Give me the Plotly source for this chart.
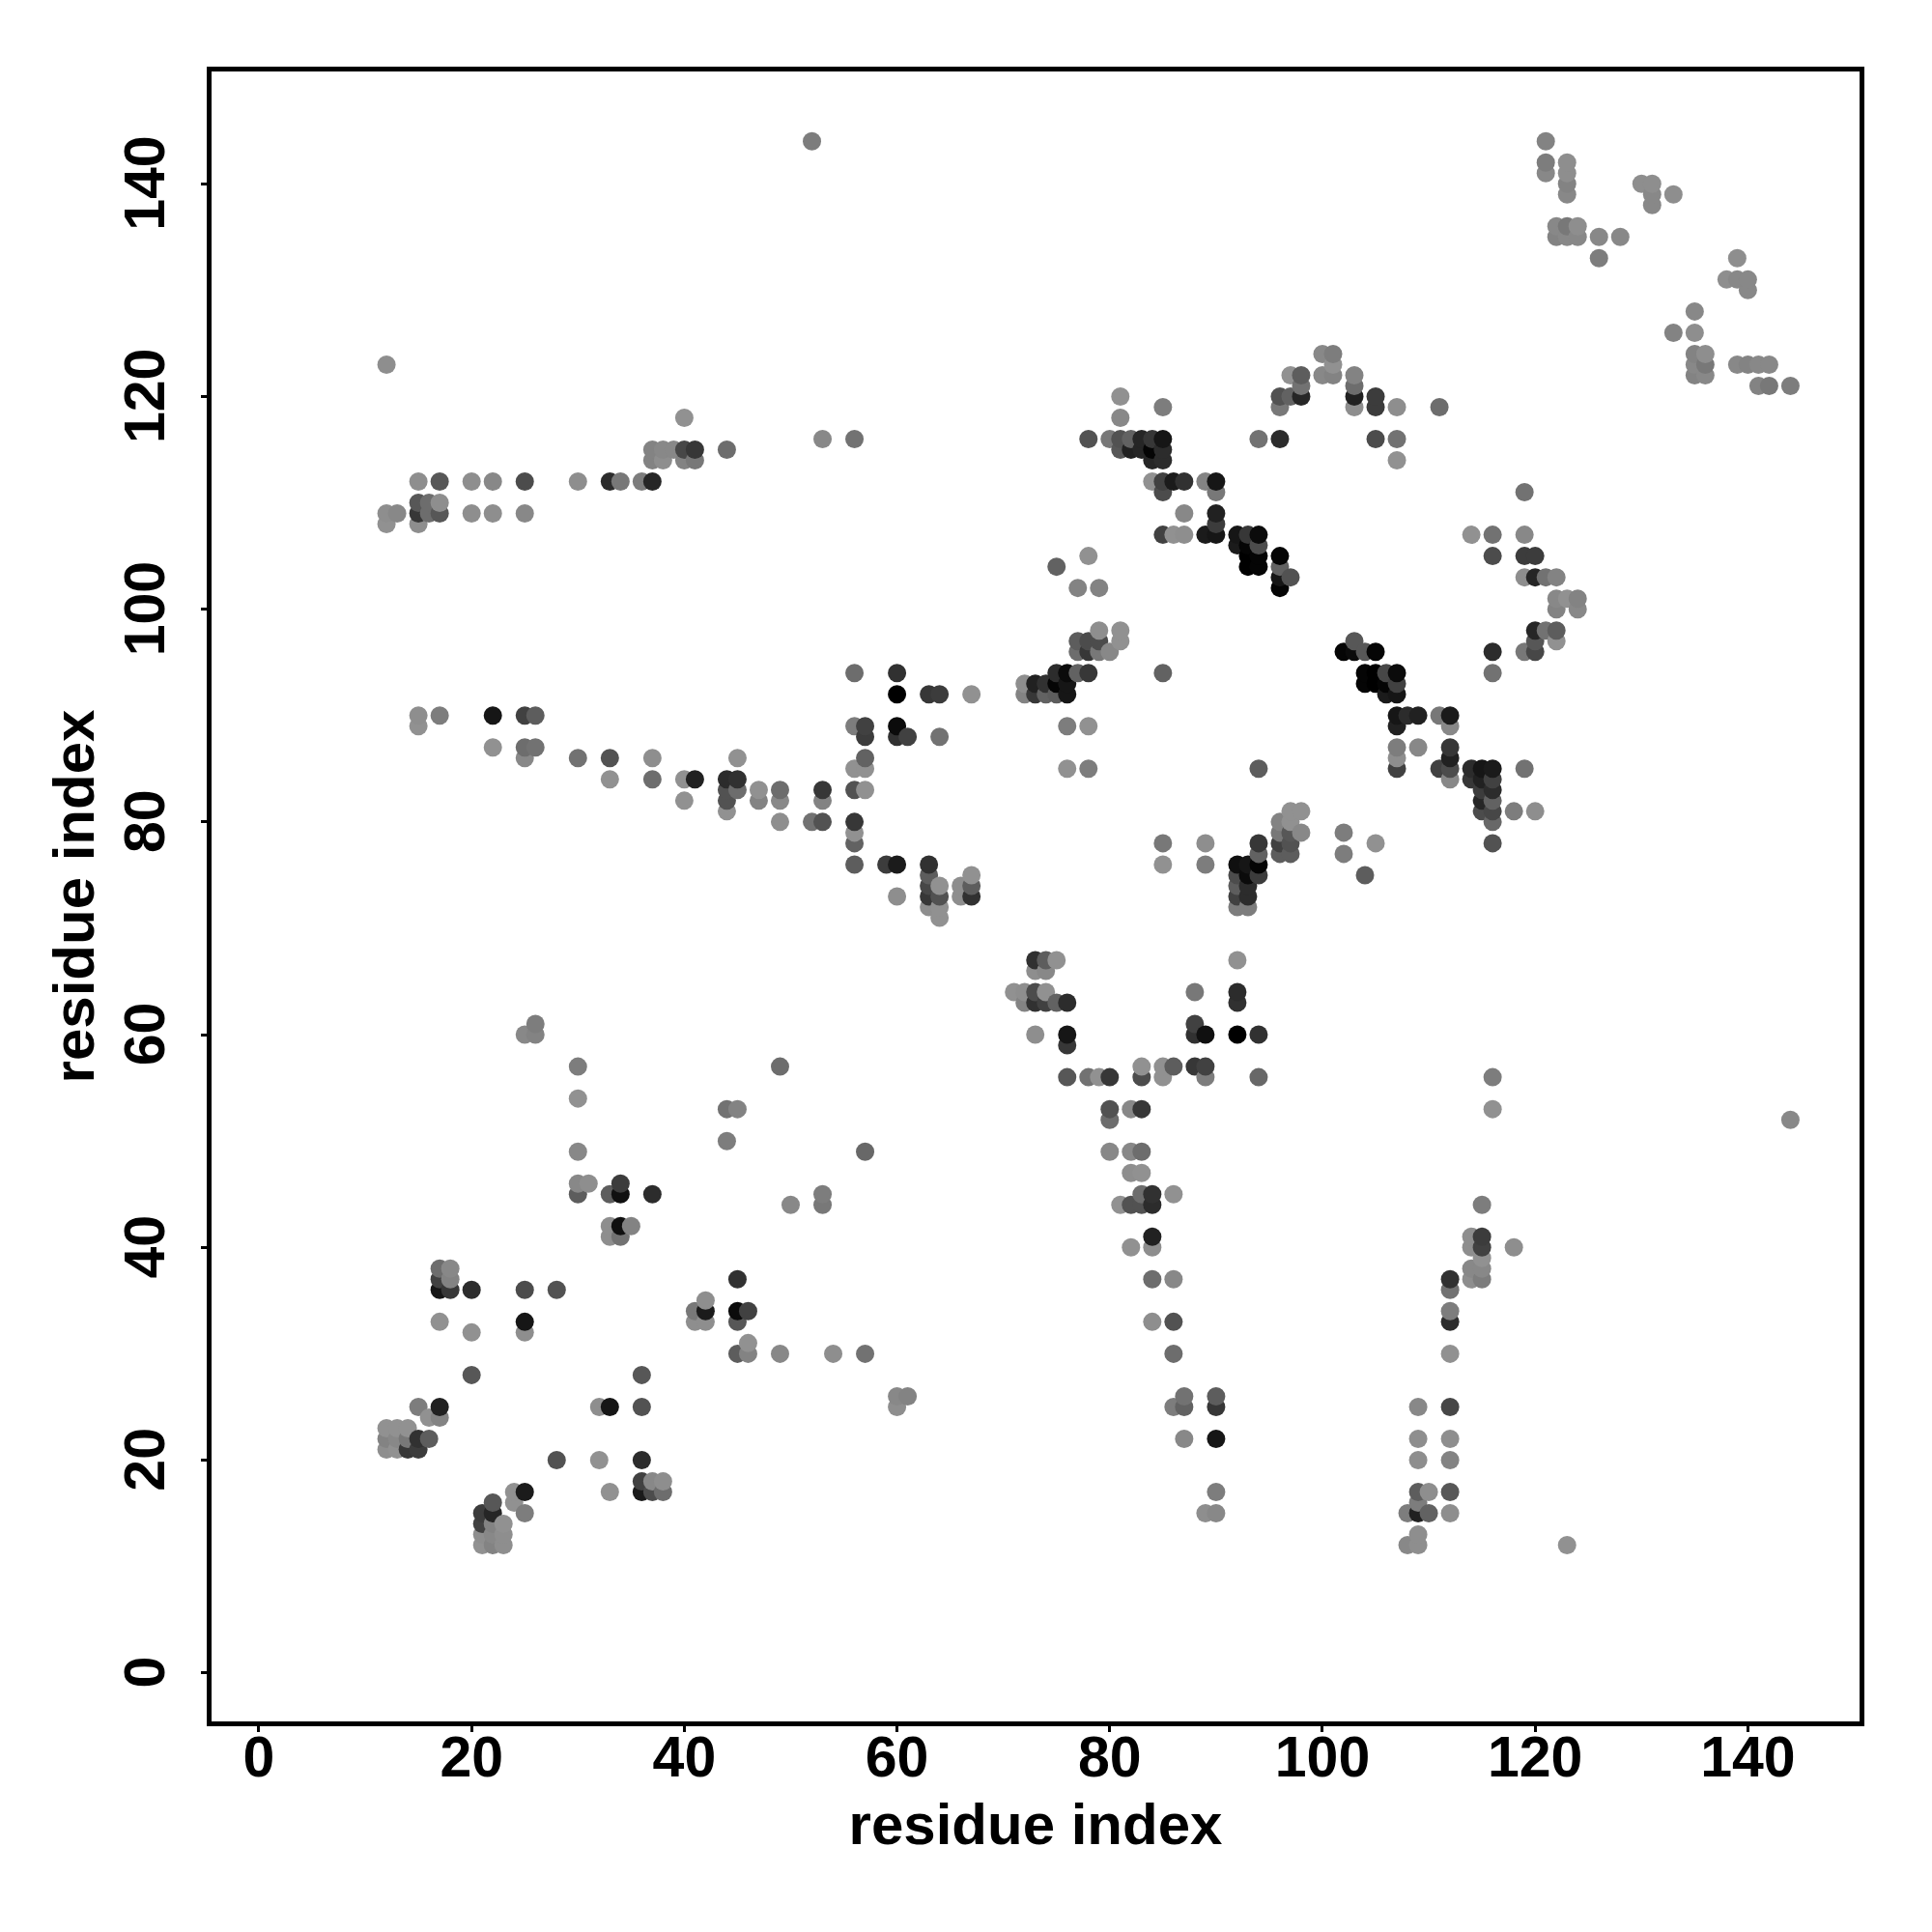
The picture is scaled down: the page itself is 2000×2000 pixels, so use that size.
import plotly.graph_objects as go

tick_values = [0, 20, 40, 60, 80, 100, 120, 140]
tick_labels = ["0", "20", "40", "60", "80", "100", "120", "140"]
axis_label = "residue index"

# lower-left contacts
low_x = [17,18,17,18,17,18,20,25,28,17,20,25,25,20,15,17,16,17,
         12,13,14,12,13,14,15,16,12,13,14,15,28,24,25,24,25,
         22,21,22,21,22,23,21,22,23,21,22,23]
low_y = [38,38,37,37,36,36,36,36,36,33,32,33,32,28,25,25,24,24,
         23,23,23,22,22,22,22,22,21,21,21,21,20,17,17,16,15,
         16,15,15,14,14,14,13,13,13,12,12,12]
low_g = [100,125,60,120,20,50,40,70,75,140,135,20,130,80,115,30,135,120,
         135,135,135,120,125,110,45,85,130,135,50,55,75,135,25,135,115,
         80,55,35,60,120,135,130,125,130,140,120,130]

# 30-60 residue contacts at low index
mid_low_x = [33,34,35,33,34,36,32,33,36,32,36,36,37,38,36,37,38,33,
             45,42,41,42,45,46,41,42,45,46,45,46,49,54,57,60,61,60,
             25,26,26,30,30,30,30,31,30,33,34,34,37,44,45,44,49,50,53,53,57]
mid_low_y = [42,42,42,41,41,28,25,25,25,20,20,18,18,18,17,17,17,17,
             37,35,34,34,34,34,33,33,33,31,30,30,30,30,30,26,26,25,
             60,61,60,57,54,49,46,46,45,45,46,45,45,53,53,50,57,44,45,44,49]
mid_low_g = [130,15,120,130,105,80,130,20,75,135,40,60,125,130,25,70,100,135,
             45,130,110,25,10,60,130,130,80,140,85,120,125,130,105,125,120,130,
             125,115,120,115,140,125,125,130,85,85,55,15,40,105,120,115,100,125,115,110,95]

# horizontal band around index 76-94
band_x = [15,15,17,22,25,26,22,25,26,25,30,33,37,45,33,37,40,41,44,45,
          44,45,47,49,53,56,57,40,44,47,49,53,44,49,52,53,56,56,56,56,59,
          56,56,57,57,57,56,57,60,60,60,61,63,64,64,67]
band_y = [90,89,90,90,90,90,87,87,87,86,86,86,86,86,84,84,84,84,84,84,
          83,83,83,83,83,83,83,82,82,82,82,82,81,80,80,80,80,79,78,76,76,
          94,89,89,88,86,85,85,94,89,88,88,92,92,88,92]
band_g = [130,140,115,20,60,85,135,100,105,125,105,75,130,140,135,100,140,30,40,45,
          75,100,135,100,50,75,135,140,75,120,125,120,135,130,105,75,50,140,90,85,55,
          100,115,60,55,90,135,135,45,10,45,60,50,55,105,135]

# cluster near 60-67, 71-76
hook_x = [60,60,63,60,63,63,64,63,64,63,64,64,66,67,67,66,67,
          72,72,73,73,74,74,75,75,75,76,76,76,77,78,77,77,78,78,79,79,
          81,81,80,79,76,78,76,78,85]
hook_y = [92,76,76,73,75,74,74,73,73,72,72,71,74,75,74,73,73,
          93,92,93,92,93,92,94,93,92,94,93,92,94,94,96,97,96,97,96,97,
          98,97,96,98,89,89,85,85,94]
hook_g = [0,25,45,130,85,65,140,50,75,130,135,135,130,140,85,130,45,
          130,120,30,50,45,90,40,5,85,10,20,20,90,50,100,85,50,70,110,70,
          135,140,125,130,115,135,135,115,90]

# diagonal 78-107, 102-124
upper_x = [81,85,81,78,80,81,82,83,84,85,81,82,83,84,85,84,85,
           84,85,86,87,89,90,85,90,87,90,90,85,86,87,89,90,
           92,93,94,92,93,94,93,94,93,94,96,96,96,97,96,78,75,77,79,94,96]
upper_y = [120,119,118,116,116,116,116,116,116,116,115,115,115,115,115,114,114,
           112,112,112,112,112,112,111,111,109,109,108,107,107,107,107,107,
           107,107,107,106,106,106,105,105,104,104,105,104,103,103,102,105,104,102,102,116,116]
upper_g = [135,115,125,75,110,75,90,35,50,20,80,30,35,5,40,35,40,
           135,60,25,45,120,20,70,110,125,30,55,60,135,130,25,20,
           20,50,10,25,5,70,0,5,0,5,5,90,20,75,5,135,90,120,120,105,40]

# arch near 120
arch_x = [100,101,101,100,101,98,98,98,97,96,97,96,103,103,103,103,105,105,107,111,105,107,107]
arch_y = [124,124,123,122,122,122,121,120,122,120,120,119,122,121,120,119,120,119,119,119,116,116,114]
arch_g = [125,115,140,125,120,85,105,35,135,75,90,110,120,100,30,130,55,55,130,100,70,105,135]

# right branch 114-124, 94-111
branch_x = [119,114,116,119,116,119,120,119,120,121,122,122,123,124,122,124,
            120,121,122,120,122,119,120,116,116]
branch_y = [111,107,107,107,105,105,105,103,103,103,103,101,101,101,100,100,
            98,98,98,97,97,96,96,96,94]
branch_g = [105,135,105,125,70,55,55,130,35,105,120,125,135,120,120,125,
            35,105,85,80,140,110,65,40,105]

# second diagonal 102-120, 78-97
diag_x = [103,102,103,104,105,104,105,106,107,104,105,106,107,106,107,
          107,108,109,107,107,107,107,109,111,112,112,112,112,111,112,112,
          114,115,116,114,115,116,115,116,115,116,115,116,116,118,120,119,116]
diag_y = [97,96,96,96,96,94,94,94,94,93,93,93,93,92,92,
          90,90,90,89,87,86,85,87,90,90,89,87,86,85,85,84,
          85,85,85,84,84,84,83,83,82,82,81,81,80,81,81,85,78]
diag_g = [80,5,10,80,5,5,0,65,10,5,0,5,60,25,20,
          20,40,30,30,115,130,60,125,110,25,125,50,30,60,70,125,
          40,20,25,50,30,60,55,40,35,90,70,65,95,115,130,105,75]

# cluster near 85-105, 72-81
lobe_x = [85,85,89,89,94,94,94,94,92,93,92,93,92,93,92,93,92,93,
          96,97,98,97,96,97,98,96,97,96,97,102,105,102,104,94]
lobe_y = [78,76,78,76,78,77,76,75,76,76,75,75,74,74,73,73,72,72,
          80,81,81,80,79,79,79,78,78,77,77,79,78,77,75,85]
lobe_g = [110,135,130,115,50,90,5,55,15,20,70,10,85,40,60,40,115,115,
          120,140,135,135,110,80,125,60,75,85,85,115,135,115,85,85]

# 56-67 block
turn_x = [92,88,92,92,88,88,89,92,94,83,83,85,86,85,88,89,89,94,116,116,
          73,74,75,73,74,71,72,73,74,72,73,74,75,76,73,76,76,76,78,79,80]
turn_y = [67,64,64,63,61,60,60,60,60,57,56,57,57,56,57,57,56,56,56,53,
          67,67,67,66,66,64,64,64,64,63,63,63,63,63,60,60,59,56,56,56,56]
turn_g = [135,110,40,45,60,45,15,0,45,135,70,135,85,135,50,60,115,95,115,135,
          45,85,135,130,125,135,130,70,135,120,45,60,90,40,130,20,50,80,105,135,50]

# descending stem 80-90
stem_x = [80,80,82,83,80,82,83,82,83,83,84,86,81,82,83,84,84,82,84,84,86,84,86,86,
          87,86,87,90,90,87,90,90,89,90]
stem_y = [53,52,53,53,49,49,49,47,47,45,45,45,44,44,44,44,41,40,40,37,37,33,33,30,
          26,25,25,26,25,22,22,17,15,15]
stem_g = [75,100,125,50,125,125,100,130,135,100,45,135,135,75,75,40,30,135,130,100,125,130,75,100,
          105,115,90,85,50,125,20,115,130,125]

# stem 108-118
foot_x = [115,114,115,114,115,115,114,115,114,115,118,112,112,112,112,112,
          109,112,109,112,109,112,109,110,112,109,108,109,110,112,109,108,109,123]
foot_y = [44,41,41,40,40,39,38,38,37,37,40,37,36,34,33,30,
          25,25,22,22,20,20,17,17,17,16,15,15,15,15,13,12,12,12]
foot_g = [115,130,55,130,60,135,125,125,130,115,130,45,105,115,40,135,
          125,65,130,130,130,120,85,130,80,115,115,30,90,130,130,125,130,135]

# top-right group
top_x = [121,121,121,123,123,123,123,130,131,131,131,133,122,123,124,122,123,124,
         126,128,126,139,138,139,140,140,135,133,135,135,136,135,136,135,136,
         139,140,141,142,141,142,144]
top_y = [144,142,141,142,141,140,139,140,140,139,138,139,136,136,136,135,135,135,
         135,135,133,133,131,131,131,130,128,126,126,124,124,123,123,122,122,
         123,123,123,123,121,121,121]
top_g = [120,115,125,130,130,120,125,130,130,125,125,130,125,110,130,120,125,125,
         125,125,115,130,130,125,125,125,125,120,130,120,130,125,110,120,125,
         125,120,125,125,120,110,115]

# upper-left band
left_x = [12,12,13,12,15,15,15,15,16,16,17,17,17,20,20,22,22,25,25,30,33,34,36,37,
          37,38,39,40,41,37,38,40,41,40,44,53,56,52,144]
left_y = [123,109,109,108,112,110,109,108,110,109,112,110,109,112,109,112,109,112,109,112,112,112,112,112,
          115,115,115,115,115,114,114,114,114,118,115,116,116,144,52]
left_g = [130,130,125,135,130,80,50,130,100,100,80,130,80,130,130,125,130,70,125,130,40,110,115,35,
          120,125,125,65,50,120,130,120,110,135,100,125,105,115,125]

blocks = [(low_x, low_y, low_g), (mid_low_x, mid_low_y, mid_low_g), (band_x, band_y, band_g),
          (hook_x, hook_y, hook_g), (upper_x, upper_y, upper_g), (arch_x, arch_y, arch_g),
          (branch_x, branch_y, branch_g), (diag_x, diag_y, diag_g), (lobe_x, lobe_y, lobe_g),
          (turn_x, turn_y, turn_g), (stem_x, stem_y, stem_g), (foot_x, foot_y, foot_g),
          (top_x, top_y, top_g), (left_x, left_y, left_g)]

seen = {}
for bx, by, bg in blocks:
    assert len(bx) == len(by) == len(bg), (bx[:3], len(bx), len(by), len(bg))
    for a, b, c in zip(bx, by, bg):
        seen[(a, b)] = c
keys = sorted(seen)  # painted by increasing x, then y
xs = [k[0] for k in keys]
ys = [k[1] for k in keys]


def grey(v):
    level = min(145, round(v * 1.09))
    return f"rgb({level},{level},{level})"


cols = [grey(seen[k]) for k in keys]

fig = go.Figure(go.Scatter(x=xs, y=ys, mode="markers",
                           marker=dict(size=19, color=cols, line=dict(width=0)),
                           hoverinfo="skip", showlegend=False))

font_tick = dict(family="Liberation Sans", size=59, color="black", weight="bold")
font_title = dict(family="Liberation Sans", size=60, color="black", weight="bold")
axis_common = dict(ticks="outside", ticklen=6, tickwidth=3, tickcolor="black",
                   showline=True, linewidth=5, linecolor="black", mirror=True,
                   showgrid=False, zeroline=False, tickfont=font_tick)

fig.update_layout(
    width=2000, height=2000, autosize=False,
    plot_bgcolor="white", paper_bgcolor="white",
    margin=dict(l=211, r=83, t=66, b=226),
    xaxis=dict(range=[-4.45, 150.5], tickvals=tick_values, ticktext=tick_labels, ticklabelstandoff=-25,
               title=dict(text=axis_label, font=font_title, standoff=18), **axis_common),
    yaxis=dict(range=[-4.57, 150.56], tickvals=tick_values, ticktext=[t + "\u00a0" for t in tick_labels],
               tickangle=-90, ticklabelstandoff=14,
               title=dict(text=axis_label, font=font_title, standoff=2), **axis_common),
)
fig.write_html("out.html")
